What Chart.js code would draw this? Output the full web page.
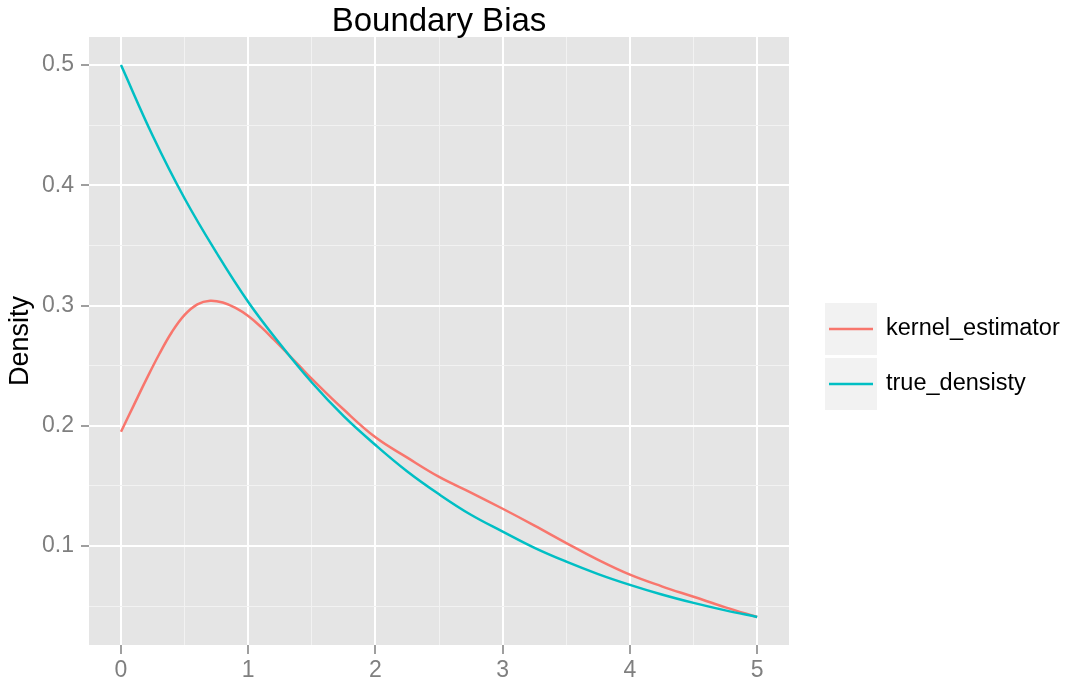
<!DOCTYPE html>
<html>
<head>
<meta charset="utf-8">
<script src="https://cdn.jsdelivr.net/npm/chart.js@4.4.0/dist/chart.umd.min.js"></script>
<style>
  html, body { margin: 0; padding: 0; background: #fff; }
</style>
</head>
<body>
<canvas id="biasChart" width="1070" height="688"></canvas>
<script>
// values
const kernelX = [0, 0.1, 0.2, 0.3, 0.4, 0.5, 0.6, 0.7, 0.8, 0.9, 1, 1.1, 1.2, 1.3, 1.4, 1.5, 1.75, 2, 2.25, 2.5, 2.75, 3, 3.25, 3.5, 3.75, 4, 4.25, 4.5, 4.75, 5];
const kernelY = [0.195, 0.217, 0.2388, 0.2595, 0.278, 0.2922, 0.301, 0.304, 0.3025, 0.298, 0.2913, 0.2822, 0.2718, 0.261, 0.25, 0.239, 0.2135, 0.1904, 0.1735, 0.1575, 0.1445, 0.131, 0.117, 0.1025, 0.0885, 0.0762, 0.0665, 0.0578, 0.049, 0.041];
const trueX = [0, 0.25, 0.5, 0.75, 1, 1.25, 1.5, 1.75, 2, 2.25, 2.5, 2.75, 3, 3.25, 3.5, 3.75, 4, 4.25, 4.5, 4.75, 5];
const trueY = [0.5, 0.441, 0.389, 0.344, 0.303, 0.268, 0.236, 0.208, 0.184, 0.162, 0.143, 0.126, 0.112, 0.0985, 0.087, 0.0767, 0.0677, 0.0597, 0.0527, 0.0465, 0.041];

const xTicks = [0, 1, 2, 3, 4, 5];
const xMinor = [0.5, 1.5, 2.5, 3.5, 4.5];
const yTicks = [0.1, 0.2, 0.3, 0.4, 0.5];
const yMinor = [0.05, 0.15, 0.25, 0.35, 0.45];

const seriesNames = ['kernel_estimator', 'true_densisty'];
const seriesColors = ['#F8766D', '#00BFC4'];

const FONT = "'Liberation Sans', Arial, sans-serif";

function toPoints(xs, ys) {
  return xs.map((x, i) => ({ x: x, y: ys[i] }));
}

function isMajor(v, list) {
  return list.some(t => Math.abs(t - v) < 1e-9);
}

// grey panel behind the grid, ggplot style
const panelBg = {
  id: 'panelBg',
  beforeDraw(chart) {
    const { ctx, chartArea: a } = chart;
    ctx.save();
    ctx.fillStyle = '#E5E5E5';
    ctx.fillRect(a.left, a.top, a.right - a.left, a.bottom - a.top);
    ctx.restore();
  }
};

// title + legend keys drawn by hand
const decorations = {
  id: 'decorations',
  afterDraw(chart) {
    const { ctx, chartArea: a } = chart;
    ctx.save();
    ctx.fillStyle = '#000';
    ctx.font = '33px ' + FONT;
    ctx.textAlign = 'center';
    ctx.textBaseline = 'alphabetic';
    ctx.fillText('Boundary Bias', (a.left + a.right) / 2, 31);

    const keyX = 825, keyTop = 303, keySize = 52, gap = 3;
    seriesNames.forEach((name, i) => {
      const top = keyTop + i * (keySize + gap);
      ctx.fillStyle = '#F2F2F2';
      ctx.fillRect(keyX, top, keySize, keySize);
      ctx.strokeStyle = seriesColors[i];
      ctx.lineWidth = 2.5;
      ctx.beginPath();
      ctx.moveTo(keyX + 4, top + keySize / 2);
      ctx.lineTo(keyX + keySize - 4, top + keySize / 2);
      ctx.stroke();
      ctx.fillStyle = '#000';
      ctx.font = '23.5px ' + FONT;
      ctx.textAlign = 'left';
      ctx.textBaseline = 'middle';
      ctx.fillText(name, 886, top + keySize / 2);
    });
    ctx.restore();
  }
};

const data = {
  datasets: [{
    label: seriesNames[0],
    data: toPoints(kernelX, kernelY),
    borderColor: seriesColors[0],
    borderWidth: 2.5,
    pointRadius: 0,
    showLine: true,
    tension: 0.4,
    order: 2
  }, {
    label: seriesNames[1],
    data: toPoints(trueX, trueY),
    borderColor: seriesColors[1],
    borderWidth: 2.5,
    pointRadius: 0,
    showLine: true,
    tension: 0.4,
    order: 1
  }]
};

const config = {
  type: 'scatter',
  data: data,
  options: {
    responsive: false,
    animation: false,
    devicePixelRatio: 1,
    layout: { padding: { top: 37, right: 281, bottom: 0, left: 0 } },
    plugins: {
      legend: { display: false },
      title: { display: false },
      tooltip: { enabled: false }
    },
    scales: {
      x: {
        type: 'linear',
        min: -0.2516,
        max: 5.25,
        afterBuildTicks: scale => {
          scale.ticks = xTicks.concat(xMinor).sort((p, q) => p - q).map(v => ({ value: v }));
        },
        afterFit: scale => { scale.height = 43; },
        border: { display: false },
        grid: {
          color: c => isMajor(c.tick.value, xTicks) ? '#FFFFFF' : '#F2F2F2',
          lineWidth: c => isMajor(c.tick.value, xTicks) ? 2 : 1,
          tickColor: c => isMajor(c.tick.value, xTicks) ? '#7F7F7F' : 'rgba(0,0,0,0)',
          tickWidth: 1.5,
          tickLength: 9
        },
        ticks: {
          autoSkip: false,
          maxRotation: 0,
          padding: 3,
          color: '#7F7F7F',
          font: { size: 23, family: FONT },
          callback: v => isMajor(v, xTicks) ? String(v) : ''
        }
      },
      y: {
        type: 'linear',
        min: 0.0177,
        max: 0.5233,
        afterBuildTicks: scale => {
          scale.ticks = yTicks.concat(yMinor).sort((p, q) => p - q).map(v => ({ value: v }));
        },
        afterFit: scale => { scale.width = 89; },
        border: { display: false },
        title: {
          display: true,
          text: 'Density',
          color: '#000',
          font: { size: 27, family: FONT }
        },
        grid: {
          color: c => isMajor(c.tick.value, yTicks) ? '#FFFFFF' : '#F2F2F2',
          lineWidth: c => isMajor(c.tick.value, yTicks) ? 2 : 1,
          tickColor: c => isMajor(c.tick.value, yTicks) ? '#7F7F7F' : 'rgba(0,0,0,0)',
          tickWidth: 1.5,
          tickLength: 8
        },
        ticks: {
          padding: 7,
          color: '#7F7F7F',
          font: { size: 23, family: FONT },
          callback: v => isMajor(v, yTicks) ? v.toFixed(1) : ''
        }
      }
    }
  },
  plugins: [panelBg, decorations]
};

const myChart = new Chart(document.getElementById('biasChart'), config);
</script>
</body>
</html>
